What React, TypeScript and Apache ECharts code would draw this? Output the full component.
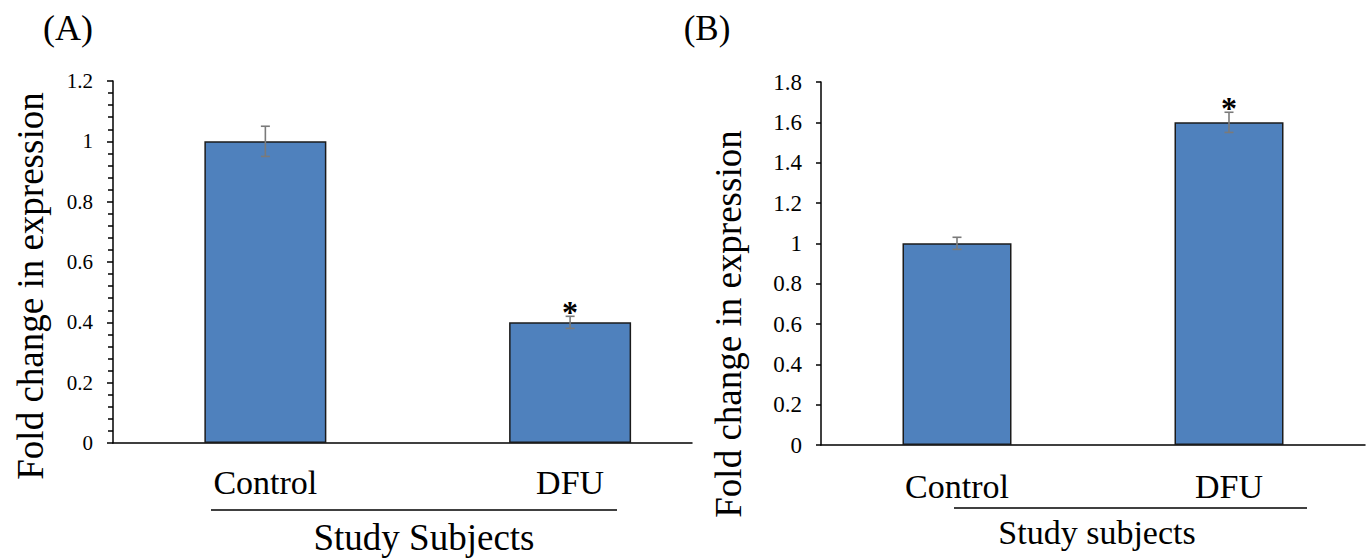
import React, { useEffect, useRef } from "react";
import * as echarts from "echarts";

// ---- data ----
const categories = ["Control", "DFU"];
// panel A (category positions along its x scale)
const aPositions = [0.5, 1.5];
const aMeans = [1.0, 0.4];
const aErr = [0.05, 0.02];
const aSig = [false, true];
const aTicks = { min: 0, max: 1.2, interval: 0.2 };
// panel B
const bMeans = [1.0, 1.6];
const bErr = [0.03, 0.05];
const bSig = [false, true];
const bTicks = { min: 0, max: 1.8, interval: 0.2 };

const FONT = "Liberation Serif";
const BAR = "#4F81BD";
const BORDER = "#1b1b1b";
const ERR = "#7a7a7a";

function errorRender(sig: boolean[]) {
  return (params: any, api: any) => {
    const x = api.value(0);
    const lo = api.value(1);
    const hi = api.value(2);
    const top = api.coord([x, hi]);
    const bot = api.coord([x, lo]);
    const cw = 4.5;
    const style = { stroke: ERR, lineWidth: 1.6 };
    const children: any[] = [
      { type: "line", shape: { x1: top[0], y1: top[1], x2: bot[0], y2: bot[1] }, style },
      { type: "line", shape: { x1: top[0] - cw, y1: top[1], x2: top[0] + cw, y2: top[1] }, style },
      { type: "line", shape: { x1: bot[0] - cw, y1: bot[1], x2: bot[0] + cw, y2: bot[1] }, style },
    ];
    if (sig[params.dataIndex]) {
      children.push({
        type: "text",
        x: top[0],
        y: top[1] - 4,
        style: {
          text: "*",
          fontFamily: FONT,
          fontSize: 32,
          fontWeight: "bold",
          fill: "#000",
          textAlign: "center",
          textVerticalAlign: "middle",
        },
      });
    }
    return { type: "group", children };
  };
}

function txt(text: string, x: number, y: number, size: number, rotation = 0) {
  return {
    type: "text",
    x,
    y,
    rotation,
    style: { text, fontFamily: FONT, fontSize: size, fill: "#000", textAlign: "center", textVerticalAlign: "middle" },
  };
}

export default function App() {
  const ref = useRef<HTMLDivElement>(null);
  useEffect(() => {
    document.body.style.margin = "0";
    const chart = echarts.init(ref.current!, undefined, { renderer: "svg" });
    const axisLine = { show: true, lineStyle: { color: "#000", width: 1.5 } };
    const option: any = {
      animation: false,
      backgroundColor: "#fff",
      textStyle: { fontFamily: FONT },
      grid: [
        { left: 113, top: 81, width: 579, bottom: 115, containLabel: false },
        { left: 821, top: 82, right: 7, bottom: 113, containLabel: false },
      ],
      xAxis: [
        {
          type: "value",
          gridIndex: 0,
          min: 0,
          max: 1.9,
          interval: 0.5,
          axisLine,
          axisTick: { show: false },
          splitLine: { show: false },
          axisLabel: {
            margin: 22,
            fontFamily: FONT,
            fontSize: 34,
            color: "#000",
            showMaxLabel: false,
            showMinLabel: false,
            formatter: (v: number) => {
              const i = aPositions.findIndex((p) => Math.abs(p - v) < 1e-6);
              return i >= 0 ? categories[i] : "";
            },
          },
        },
        {
          type: "category",
          gridIndex: 1,
          data: categories,
          axisLine,
          axisTick: { show: false },
          axisLabel: { margin: 24, fontFamily: FONT, fontSize: 34, color: "#000" },
        },
      ],
      yAxis: [
        {
          type: "value",
          gridIndex: 0,
          ...aTicks,
          axisLine,
          axisTick: { show: true, length: 6, lineStyle: { color: "#000", width: 1.5 } },
          minorTick: { show: true, splitNumber: 5, length: 5, lineStyle: { color: "#000", width: 1.5 } },
          splitLine: { show: false },
          minorSplitLine: { show: false },
          axisLabel: { margin: 20, fontFamily: FONT, fontSize: 21, color: "#000" },
        },
        {
          type: "value",
          gridIndex: 1,
          ...bTicks,
          axisLine,
          axisTick: { show: true, length: 5, lineStyle: { color: "#000", width: 1.5 } },
          splitLine: { show: false },
          axisLabel: { margin: 19, fontFamily: FONT, fontSize: 23, color: "#000" },
        },
      ],
      series: [
        {
          type: "bar",
          xAxisIndex: 0,
          yAxisIndex: 0,
          barWidth: 122,
          data: aPositions.map((p, i) => [p, aMeans[i]]),
          itemStyle: { color: BAR, borderColor: BORDER, borderWidth: 1.5 },
        },
        {
          type: "custom",
          xAxisIndex: 0,
          yAxisIndex: 0,
          renderItem: errorRender(aSig),
          data: aPositions.map((p, i) => [p, aMeans[i] - aErr[i], aMeans[i] + aErr[i]]),
          z: 5,
        },
        {
          type: "bar",
          xAxisIndex: 1,
          yAxisIndex: 1,
          barWidth: 109,
          data: bMeans,
          itemStyle: { color: BAR, borderColor: BORDER, borderWidth: 1.5 },
        },
        {
          type: "custom",
          xAxisIndex: 1,
          yAxisIndex: 1,
          renderItem: errorRender(bSig),
          data: bMeans.map((m, i) => [i, m - bErr[i], m + bErr[i]]),
          z: 5,
        },
      ],
      graphic: [
        txt("(A)", 68, 28, 36),
        txt("(B)", 707, 28, 35),
        txt("Fold change in expression", 30, 286, 37, Math.PI / 2),
        txt("Fold change in expression", 728, 324, 37, Math.PI / 2),
        { type: "line", shape: { x1: 211, y1: 510, x2: 617, y2: 510 }, style: { stroke: "#000", lineWidth: 1.5 } },
        { type: "line", shape: { x1: 954, y1: 508, x2: 1307, y2: 508 }, style: { stroke: "#000", lineWidth: 1.5 } },
        txt("Study Subjects", 424, 537, 37),
        txt("Study subjects", 1097, 532, 34),
      ],
    };
    chart.setOption(option);
    return () => chart.dispose();
  }, []);
  return <div ref={ref} style={{ width: 1372, height: 558 }} />;
}
